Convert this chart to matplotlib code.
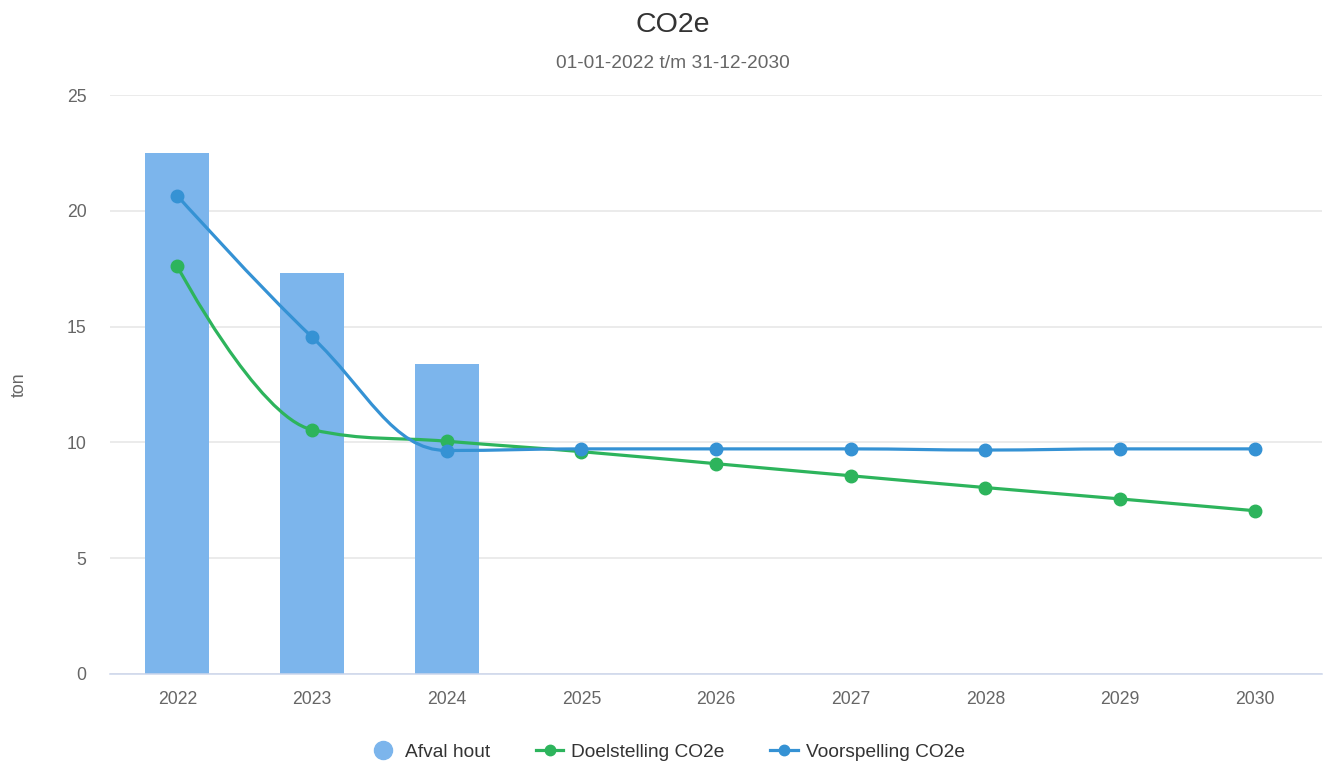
import matplotlib.pyplot as plt
from matplotlib.path import Path
from matplotlib.patches import PathPatch
from matplotlib.lines import Line2D
import numpy as np

plt.rcParams['font.family'] = ['Liberation Sans', 'DejaVu Sans']

years = ['2022', '2023', '2024', '2025', '2026', '2027', '2028', '2029', '2030']
afval_hout = [22.5, 17.3, 13.4]
doelstelling = [17.6, 10.55, 10.05, 9.6, 9.08, 8.56, 8.05, 7.56, 7.05]
voorspelling = [20.65, 14.55, 9.65, 9.72, 9.72, 9.72, 9.67, 9.72, 9.72]

bar_color = '#7cb5ec'
green = '#2db45c'
blue = '#3592d4'


def spline_path(xs, ys):
    # highcharts-style spline (smoothing 1.5)
    n = len(xs)
    sm, den = 1.5, 2.5
    right = [(xs[i], ys[i]) for i in range(n)]
    left = [(xs[i], ys[i]) for i in range(n)]
    for i in range(1, n - 1):
        px, py = xs[i], ys[i]
        lx, ly = xs[i - 1], ys[i - 1]
        nx, ny = xs[i + 1], ys[i + 1]
        lcx = (sm * px + lx) / den
        lcy = (sm * py + ly) / den
        rcx = (sm * px + nx) / den
        rcy = (sm * py + ny) / den
        corr = (rcy - lcy) * (rcx - px) / (rcx - lcx) + py - rcy
        lcy += corr
        rcy += corr
        if lcy > ly and lcy > py:
            lcy = max(ly, py)
            rcy = 2 * py - lcy
        elif lcy < ly and lcy < py:
            lcy = min(ly, py)
            rcy = 2 * py - lcy
        if rcy > ny and rcy > py:
            rcy = max(ny, py)
            lcy = 2 * py - rcy
        elif rcy < ny and rcy < py:
            rcy = min(ny, py)
            lcy = 2 * py - rcy
        left[i] = (lcx, lcy)
        right[i] = (rcx, rcy)
    verts = [(xs[0], ys[0])]
    codes = [Path.MOVETO]
    for i in range(1, n):
        verts += [right[i - 1], left[i], (xs[i], ys[i])]
        codes += [Path.CURVE4] * 3
    return Path(verts, codes)


fig = plt.figure(figsize=(13.24, 7.65), dpi=100)
ax = fig.add_axes([110 / 1324, 1 - 674 / 765, 1212 / 1324, 579 / 765])

x = np.arange(len(years))
ax.bar(x[:len(afval_hout)], afval_hout, 0.475, color=bar_color, zorder=2)

for vals, col in [(doelstelling, green), (voorspelling, blue)]:
    p = spline_path(list(x.astype(float)), vals)
    ax.add_patch(PathPatch(p, fill=False, edgecolor=col, lw=2.3, zorder=3,
                           capstyle='round', joinstyle='round'))
    ax.plot(x, vals, 'o', color=col, markersize=9, zorder=4)

ax.set_xlim(-0.5, len(years) - 0.5)
ax.set_ylim(0, 25)
ax.set_yticks([0, 5, 10, 15, 20, 25])
ax.set_xticks(x)
ax.set_xticklabels(years)
ax.grid(axis='y', color='#e6e6e6', lw=1.1, zorder=0)
ax.set_axisbelow(True)
for s in ['top', 'right', 'left']:
    ax.spines[s].set_visible(False)
ax.spines['bottom'].set_color('#ccd6eb')
ax.spines['bottom'].set_linewidth(1.1)
ax.tick_params(axis='y', length=0, pad=17, labelsize=12.7, labelcolor='#666666')
ax.tick_params(axis='x', length=0, pad=12, labelsize=12.7, labelcolor='#666666')
ax.set_ylabel('ton', fontsize=12.7, color='#666666')
ax.yaxis.set_label_coords(-82 / 1212, 0.5)

fig.text(673 / 1324, 1 - 25 / 765, 'CO2e', ha='center', va='center', fontsize=20.5, color='#333333')
fig.text(673 / 1324, 1 - 64 / 765, '01-01-2022 t/m 31-12-2030', ha='center', va='center',
         fontsize=13.8, color='#666666')

handles = [
    Line2D([], [], ls='none', marker='o', markersize=13, color=bar_color),
    Line2D([], [], color=green, lw=2.3, marker='o', markersize=7.5),
    Line2D([], [], color=blue, lw=2.3, marker='o', markersize=7.5),
]
fig.legend(handles, ['Afval hout', 'Doelstelling CO2e', 'Voorspelling CO2e'],
           loc='center', bbox_to_anchor=(667 / 1324, 1 - 752 / 765), ncol=3, frameon=False,
           fontsize=13.8, labelcolor='#333333', handlelength=1.45, columnspacing=2.4,
           handletextpad=0.4)

fig.savefig('out.png', dpi=100)
